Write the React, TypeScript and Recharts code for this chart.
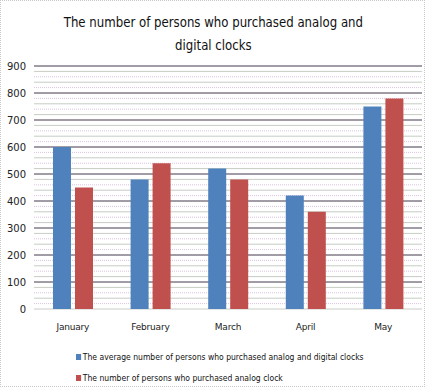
import { BarChart, Bar, XAxis, YAxis, CartesianGrid } from "recharts";

const months = ["January", "February", "March", "April", "May"];
const analogAndDigital = [600, 480, 520, 420, 750];
const analogOnly = [450, 540, 480, 360, 780];
const yTicks = [0, 100, 200, 300, 400, 500, 600, 700, 800, 900];
const Y_MAX = 900;

const BLUE = "#4f81bd";
const RED = "#c0504d";
const FONT = "'DejaVu Sans', sans-serif";

const data = months.map((m, i) => ({
  month: m,
  both: analogAndDigital[i],
  analog: analogOnly[i],
}));

// thin lines between the labelled ticks, every 20
const minorGray: number[] = [0];
const minorPink: number[] = [];
for (let v = 20; v < Y_MAX; v += 20) {
  if (v % 100 === 0) continue;
  if ((v / 20) % 2 === 1) minorPink.push(v);
  else minorGray.push(v);
}
const majorLines = yTicks.filter((v) => v > 0);

// map values onto the plot area (same linear 0..900 domain as the y axis)
const linesAt = (values: number[]) => (props: any) => {
  const { top, height } = props.offset;
  return values.map((v) => top + height * (1 - v / Y_MAX));
};

const legendItems = [
  { color: BLUE, label: "The average number of persons who purchased analog and digital clocks" },
  { color: RED, label: "The number of persons who purchased analog clock" },
];

export default function App() {
  return (
    <div
      style={{
        position: "absolute",
        left: 0,
        top: 0,
        width: 423,
        height: 385,
        border: "1px dotted #c8c8c8",
        background: "#fff",
        fontFamily: FONT,
      }}
    >
      <div
        style={{
          position: "absolute",
          top: 10,
          left: 0,
          width: 423,
          textAlign: "center",
          fontSize: 14,
          lineHeight: "23px",
          color: "#111",
          transform: "scaleX(0.84)",
          transformOrigin: "217px 0",
        }}
      >
        The number of persons who purchased analog and
        <br />
        digital clocks
      </div>
      <div style={{ position: "absolute", left: -1, top: -1 }}>
        <BarChart
          width={425}
          height={387}
          data={data}
          margin={{ top: 66, right: 3, bottom: 48, left: 0 }}
          barSize={18}
          barGap={4}
        >
          <CartesianGrid
            vertical={false}
            horizontalCoordinatesGenerator={linesAt(minorGray)}
            stroke="#c6ccc4"
          />
          <CartesianGrid
            vertical={false}
            horizontalCoordinatesGenerator={linesAt(minorPink)}
            stroke="#dbc3e0"
            strokeDasharray="1 1"
          />
          <CartesianGrid
            vertical={false}
            horizontalCoordinatesGenerator={linesAt(majorLines)}
            stroke="#43384d"
          />
          <XAxis
            dataKey="month"
            axisLine={false}
            tickLine={false}
            tickSize={0}
            tickMargin={15}
            tick={{ fontSize: 9, fill: "#222", fontFamily: FONT, letterSpacing: -0.2 }}
          />
          <YAxis
            width={34}
            domain={[0, Y_MAX]}
            ticks={yTicks}
            axisLine={false}
            tickLine={false}
            tick={{ fontSize: 10, fill: "#222", fontFamily: FONT }}
          />
          <Bar dataKey="both" fill={BLUE} isAnimationActive={false} />
          <Bar dataKey="analog" fill={RED} isAnimationActive={false} />
        </BarChart>
      </div>
      {legendItems.map((item, i) => (
        <div
          key={item.label}
          style={{
            position: "absolute",
            left: 75,
            top: 349 + i * 21,
            fontSize: 9,
            lineHeight: "14px",
            color: "#111",
            whiteSpace: "nowrap",
            display: "flex",
            alignItems: "center",
            transform: "scaleX(0.85)",
            transformOrigin: "0 0",
          }}
        >
          <span
            style={{
              display: "inline-block",
              width: 6,
              height: 6,
              background: item.color,
              marginRight: 2,
            }}
          />
          {item.label}
        </div>
      ))}
    </div>
  );
}
